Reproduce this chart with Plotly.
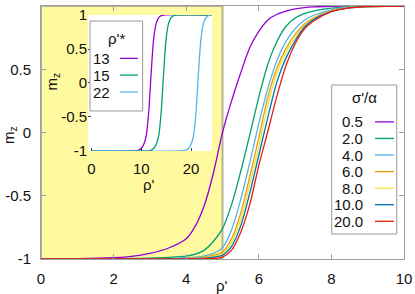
import plotly.graph_objects as go

# ---------------- data ----------------
rho = [0, 1, 2, 2.5, 3, 3.5, 4, 4.25, 4.5, 4.75, 5, 5.25, 5.5, 5.75, 6,
       6.25, 6.5, 6.75, 7, 7.25, 7.5, 8, 8.5, 9, 10]

sigma_labels = ["0.5", "2.0", "4.0", "6.0", "8.0", "10.0", "20.0"]
mz_05 = [-1.0, -0.998, -0.99, -0.98, -0.955, -0.915, -0.84, -0.74, -0.575, -0.32, 0.0,
         0.25, 0.47, 0.67, 0.80, 0.89, 0.935, 0.96, 0.977, 0.987, 0.993, 0.998, 1.0, 1.0, 1.0]
mz_20 = [-1.0, -1.0, -0.998, -0.996, -0.993, -0.988, -0.978, -0.962, -0.93, -0.86, -0.76,
         -0.57, -0.31, -0.02, 0.28, 0.54, 0.72, 0.84, 0.905, 0.94, 0.96, 0.983, 0.993, 0.998, 1.0]
mz_40 = [-1.0, -1.0, -1.0, -1.0, -0.999, -0.997, -0.99, -0.985, -0.975, -0.955, -0.91,
         -0.77, -0.53, -0.24, 0.07, 0.35, 0.57, 0.72, 0.82, 0.885, 0.925, 0.97, 0.99, 0.997, 1.0]
mz_60 = [-1.0, -1.0, -1.0, -1.0, -1.0, -0.998, -0.995, -0.99, -0.985, -0.972, -0.945,
         -0.84, -0.64, -0.35, -0.04, 0.28, 0.51, 0.665, 0.775, 0.855, 0.905, 0.962, 0.988, 0.996, 1.0]
mz_80 = [-1.0, -1.0, -1.0, -1.0, -1.0, -0.999, -0.997, -0.994, -0.99, -0.98, -0.96,
         -0.87, -0.69, -0.41, -0.11, 0.22, 0.47, 0.635, 0.75, 0.84, 0.895, 0.96, 0.987, 0.996, 1.0]
mz_100 = [-1.0, -1.0, -1.0, -1.0, -1.0, -1.0, -0.998, -0.996, -0.994, -0.985, -0.97,
          -0.90, -0.74, -0.48, -0.18, 0.12, 0.40, 0.59, 0.725, 0.83, 0.89, 0.957, 0.986, 0.996, 1.0]
mz_200 = [-1.0, -1.0, -1.0, -1.0, -1.0, -1.0, -1.0, -0.999, -0.998, -0.995, -0.985,
          -0.93, -0.79, -0.57, -0.26, 0.01, 0.29, 0.53, 0.70, 0.815, 0.88, 0.955, 0.985, 0.996, 1.0]
main_series = [mz_05, mz_20, mz_40, mz_60, mz_80, mz_100, mz_200]

# inset
rho_star_labels = ["13", "15", "22"]
inset_rho_13 = [0, 8, 9, 9.5, 10, 10.5, 11, 11.5, 12, 12.5, 13, 13.5, 14, 14.5, 24.5]
inset_rho_15 = [0, 10.5, 11.5, 12, 12.5, 13, 13.5, 14, 14.5, 15, 15.5, 16, 16.5, 17, 24.5]
inset_rho_22 = [0, 17.5, 18.5, 19, 19.5, 20, 20.5, 21, 21.5, 22, 22.5, 23, 23.5, 24, 24.5]
inset_mz = [-1, -1, -0.995, -0.985, -0.96, -0.9, -0.77, -0.42, 0.17, 0.66, 0.88, 0.96, 0.99, 1, 1]
inset_x_series = [inset_rho_13, inset_rho_15, inset_rho_22]

main_xticks = [0, 2, 4, 6, 8, 10]
main_xtick_text = ["0", "2", "4", "6", "8", "10"]
main_yticks = [-1, -0.5, 0, 0.5, 1]
main_ytick_text = ["-1", "-0.5", "0", "0.5", "1"]
inset_xticks = [0, 10, 20]
inset_xtick_text = ["0", "10", "20"]
inset_yticks = [-1, -0.5, 0, 0.5, 1]
inset_ytick_text = ["-1", "-0.5", "0", "0.5", "1"]
highlight_rho = [0, 5]

# ---------------- styles ----------------
colors = ["#9400D3", "#009E73", "#56B4E9", "#E69F00", "#F0E442", "#0072B2", "#E51E10"]
inset_colors = ["#9400D3", "#009E73", "#56B4E9"]
FONT = "Liberation Sans, Arial, Helvetica, sans-serif"
FS = 15
frame_gray = "#a0a0a0"

fig = go.Figure()
for ys, c, lab in zip(main_series, colors, sigma_labels):
    fig.add_trace(go.Scatter(x=rho, y=ys, mode="lines", name=lab,
                             line=dict(color=c, width=1.3, shape="spline", smoothing=0.8),
                             showlegend=False, xaxis="x", yaxis="y"))
for xs, c, lab in zip(inset_x_series, inset_colors, rho_star_labels):
    fig.add_trace(go.Scatter(x=xs, y=inset_mz, mode="lines", name=lab,
                             line=dict(color=c, width=1.3, shape="spline", smoothing=0.8),
                             showlegend=False, xaxis="x2", yaxis="y2"))

shapes = []
# yellow region
shapes.append(dict(type="rect", xref="x", yref="y", x0=highlight_rho[0], x1=highlight_rho[1],
                   y0=-1, y1=1, fillcolor="#fffaa0", line=dict(color="#b4b494", width=2),
                   layer="below"))
# inset background
shapes.append(dict(type="rect", xref="x2 domain", yref="y2 domain", x0=0, x1=1, y0=0, y1=1,
                   fillcolor="white", line=dict(color="#3c463e", width=1.6), layer="below"))

annotations = []

def legend(box, title, title_pos, labels, cols, ys, label_x, line_x):
    shapes.append(dict(type="rect", xref="paper", yref="paper", x0=box[0], x1=box[1],
                       y0=box[2], y1=box[3], fillcolor="white",
                       line=dict(color="#999999", width=1)))
    annotations.append(dict(xref="paper", yref="paper", x=title_pos[0], y=title_pos[1],
                            text=title, showarrow=False, xanchor="center", yanchor="middle",
                            font=dict(family=FONT, size=FS, color="#111")))
    for lab, c, yy in zip(labels, cols, ys):
        annotations.append(dict(xref="paper", yref="paper", x=label_x, y=yy, text=lab,
                                showarrow=False, xanchor="right", yanchor="middle",
                                font=dict(family=FONT, size=FS, color="#111")))
        shapes.append(dict(type="line", xref="paper", yref="paper", x0=line_x[0], x1=line_x[1],
                           y0=yy, y1=yy, line=dict(color=c, width=1.3)))

# main legend
main_leg_y = [0.542 - i * 0.0655 for i in range(len(sigma_labels))]
legend((0.8008, 0.98, 0.0988, 0.6877), "σ'/α", (0.89, 0.637), sigma_labels, colors,
       main_leg_y, 0.8926, (0.920, 0.9725))
# inset legend
inset_leg_y = [0.793, 0.727, 0.660]
legend((0.135, 0.280, 0.585, 0.9407), "ρ'*", (0.208, 0.873), rho_star_labels, inset_colors,
       inset_leg_y, 0.1948, (0.2176, 0.267))

# axis titles
def label(x, y, text, angle=0):
    annotations.append(dict(xref="paper", yref="paper", x=x, y=y, text=text, showarrow=False,
                            xanchor="center", yanchor="middle", textangle=angle,
                            font=dict(family=FONT, size=FS, color="#111")))

label(-0.088, 0.49, "m<sub>z</sub>", -90)
label(0.499, -0.106, "ρ'")
label(0.032, 0.70, "m<sub>z</sub>", -90)
label(0.298, 0.293, "ρ'")

tickfont = dict(family=FONT, size=FS, color="#111")
common = dict(showgrid=False, zeroline=False, automargin=False, tickfont=tickfont)
fig.update_layout(
    width=415, height=294,
    margin=dict(l=41, r=11, t=6, b=35, autoexpand=False),
    paper_bgcolor="white", plot_bgcolor="white",
    shapes=shapes, annotations=annotations,
    xaxis=dict(range=[0, 10], tickvals=main_xticks, ticktext=main_xtick_text,
               ticks="inside", ticklen=5, tickcolor=frame_gray, showline=True,
               linecolor=frame_gray, linewidth=1, mirror="ticks",
               ticklabelstandoff=6, domain=[0, 1], **common),
    yaxis=dict(range=[-1, 1], tickvals=main_yticks, ticktext=main_ytick_text,
               ticks="inside", ticklen=5, tickcolor=frame_gray, showline=True,
               linecolor=frame_gray, linewidth=1, mirror="ticks",
               ticklabelstandoff=6, domain=[0, 1], **common),
    xaxis2=dict(range=[-0.7, 24.2], tickvals=inset_xticks, ticktext=inset_xtick_text,
                ticks="inside", ticklen=3, tickcolor="#3c463e", showline=False,
                ticklabelstandoff=7, domain=[0.1295, 0.4711], anchor="y2", **common),
    yaxis2=dict(range=[-1, 1], tickvals=inset_yticks, ticktext=inset_ytick_text,
                ticks="inside", ticklen=3, tickcolor="#3c463e", showline=False,
                ticklabelstandoff=0, domain=[0.4269, 0.9644], anchor="x2", **common),
)

fig.write_html("out.html",
               config={"displayModeBar": False, "staticPlot": True},
               post_script="document.body.style.margin='0';document.body.style.padding='0';")
